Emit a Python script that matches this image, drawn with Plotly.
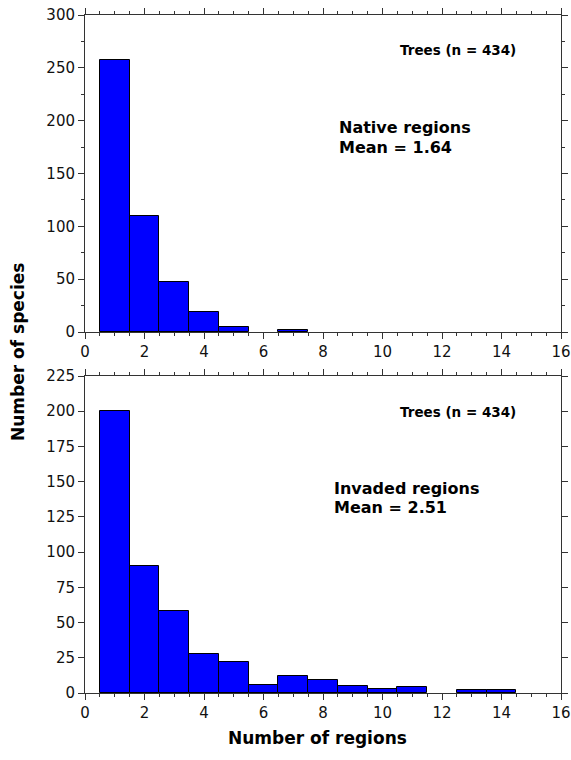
import plotly.graph_objects as go
from plotly.subplots import make_subplots

regions = [1, 2, 3, 4, 5, 6, 7, 8, 9, 10, 11, 12, 13, 14, 15]
native_counts = [257, 110, 47, 19, 5, 0, 2, 0, 0, 0, 0, 0, 0, 0, 0]
invaded_counts = [200, 90, 58, 28, 22, 6, 12, 9, 5, 3, 4, 0, 2, 2, 0]
x_ticks = [0, 2, 4, 6, 8, 10, 12, 14, 16]
top_y_ticks = [0, 50, 100, 150, 200, 250, 300]
bot_y_ticks = [0, 25, 50, 75, 100, 125, 150, 175, 200, 225]

FONT = "DejaVu Sans, Liberation Sans, Arial, sans-serif"
AX = "#333333"

W, H = 571, 760
L, R, T, B = 85, 10, 15, 67
PH = H - T - B

fig = make_subplots(rows=2, cols=1, vertical_spacing=44 / PH)

for row, counts in ((1, native_counts), (2, invaded_counts)):
    xs = [r for r, c in zip(regions, counts) if c > 0]
    ys = [c for c in counts if c > 0]
    fig.add_trace(go.Bar(x=xs, y=ys, width=1,
                         marker=dict(color="#0000FF", line=dict(color="black", width=1)),
                         showlegend=False, hoverinfo="skip"), row=row, col=1)

common_x = dict(range=[0, 16], tickvals=x_ticks, ticks="outside", ticklen=6, tickwidth=1,
                tickcolor=AX, showline=True, linecolor=AX, linewidth=1, mirror="ticks",
                showgrid=False, zeroline=False, automargin=False, ticklabeloverflow="allow",
                minor=dict(dtick=0.5, ticks="outside", ticklen=3, tickcolor=AX),
                tickfont=dict(family=FONT, size=15, color="#111111"))
fig.update_xaxes(**common_x, row=1, col=1)
fig.update_xaxes(**common_x, row=2, col=1)

common_y = dict(ticks="outside", ticklen=6, tickwidth=1, tickcolor=AX, showline=True,
                linecolor=AX, linewidth=1, mirror="ticks", showgrid=False, zeroline=False,
                automargin=False, ticklabeloverflow="allow",
                tickfont=dict(family=FONT, size=15, color="#111111"))
fig.update_yaxes(**common_y, range=[0, 300], tickvals=top_y_ticks,
                 minor=dict(dtick=25, ticks="outside", ticklen=3, tickcolor=AX), row=1, col=1)
fig.update_yaxes(**common_y, range=[0, 225], tickvals=bot_y_ticks, row=2, col=1)

fig.update_layout(width=W, height=H, margin=dict(l=L, r=R, t=T, b=B, autoexpand=False),
                  plot_bgcolor="white", paper_bgcolor="white", bargap=0)

ann_font = dict(family=FONT, size=13.5, color="black")
lab_font = dict(family=FONT, size=16, color="black")
title_font = dict(family=FONT, size=17, color="black")


def txt(text, xref, yref, x, y, font, xanchor):
    fig.add_annotation(text=text, xref=xref, yref=yref, x=x, y=y, showarrow=False, font=font,
                       xanchor=xanchor, yanchor="middle", borderpad=0)


txt("<b>Trees (n = 434)</b>", "x", "y", 12.55, 267, ann_font, "center")
txt("<b>Native regions</b>", "x", "y", 8.5, 194, lab_font, "left")
txt("<b>Mean = 1.64</b>", "x", "y", 8.5, 175, lab_font, "left")
txt("<b>Trees (n = 434)</b>", "x2", "y2", 12.55, 199.5, ann_font, "center")
txt("<b>Invaded regions</b>", "x2", "y2", 8.35, 145, lab_font, "left")
txt("<b>Mean = 2.51</b>", "x2", "y2", 8.35, 131.5, lab_font, "left")

fig.add_annotation(text="<b>Number of regions</b>", xref="paper", yref="paper",
                   x=(317 - L) / (W - L - R), y=-45 / PH, showarrow=False, font=title_font,
                   xanchor="center", yanchor="middle")
fig.add_annotation(text="<b>Number of species</b>", xref="paper", yref="paper",
                   x=(18 - L) / (W - L - R), y=(H - B - 352) / PH, textangle=-90,
                   showarrow=False, font=title_font, xanchor="center", yanchor="middle")

# remove the page's default 8px body margin so the figure fills the window exactly
fig.write_html("out.html", config={"displayModeBar": False},
               post_script="document.body.style.margin='0';document.body.style.overflow='hidden';")
